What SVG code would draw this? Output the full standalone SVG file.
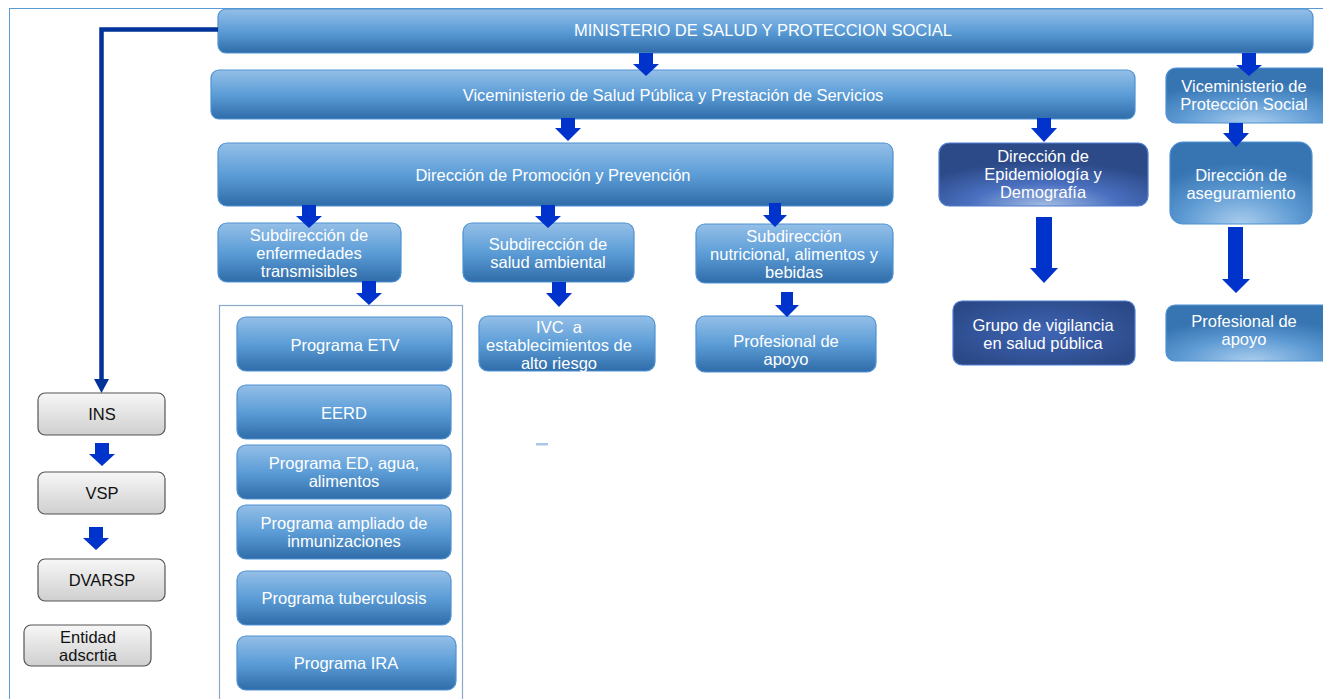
<svg xmlns="http://www.w3.org/2000/svg" width="1323" height="699" viewBox="0 0 1323 699">
<defs>
<linearGradient id="gBlue" x1="0" y1="0" x2="0" y2="1">
<stop offset="0" stop-color="#94BFE7"/>
<stop offset="0.5" stop-color="#5C9DD7"/>
<stop offset="1" stop-color="#2F6CA9"/>
</linearGradient>
<radialGradient id="gLight" cx="0.5" cy="1" r="0.75">
<stop offset="0" stop-color="#A9CDEE"/>
<stop offset="0.55" stop-color="#5D9AD3"/>
<stop offset="1" stop-color="#3674B2"/>
</radialGradient>
<radialGradient id="gDark" cx="0.5" cy="1" r="0.7">
<stop offset="0" stop-color="#A3BCE4"/>
<stop offset="0.5" stop-color="#4A70C0"/>
<stop offset="1" stop-color="#2C4A88"/>
</radialGradient>
<radialGradient id="gDark2" cx="0.5" cy="0.5" r="0.6">
<stop offset="0" stop-color="#3F65B5"/>
<stop offset="1" stop-color="#2B4987"/>
</radialGradient>
<linearGradient id="gGrey" x1="0" y1="0" x2="0" y2="1">
<stop offset="0" stop-color="#F7F7F7"/>
<stop offset="1" stop-color="#CFCFCF"/>
</linearGradient>
</defs>
<style>
.b{fill:url(#gBlue);stroke:#4F92D3;stroke-width:1.2}
.l{fill:url(#gLight);stroke:#4F92D3;stroke-width:1.2}
.d{fill:url(#gDark);stroke:#4F7FCF;stroke-width:1.2}
.d2{fill:url(#gDark2);stroke:#4F7FCF;stroke-width:1.2}
.g{fill:url(#gGrey);stroke:#555;stroke-width:1.2}
text{font-family:"Liberation Sans",Arial,sans-serif;font-size:16.5px;text-anchor:middle;dominant-baseline:central}
.w{fill:#FFFFFF}
.k{fill:#111}
.ar{fill:#0033CC}
</style>
<rect x="9.5" y="8.5" width="1330" height="700" fill="#FFFFFF" stroke="#5B9BD5" stroke-width="1"/>
<rect x="219.5" y="305.5" width="243" height="400" fill="none" stroke="#8EA9C8" stroke-width="1.2"/>
<rect x="536" y="443" width="12" height="2.5" fill="#A8C8E8"/>

<g id="ministerio"><rect class="b" x="218" y="9" width="1095" height="44" rx="8"/><text class="w" x="763" y="30">MINISTERIO DE SALUD Y PROTECCION SOCIAL</text></g>
<g id="vice-salud"><rect class="b" x="211" y="70" width="924" height="49" rx="8"/><text class="w" x="673" y="95">Viceministerio de Salud Pública y Prestación de Servicios</text></g>
<g id="vice-proteccion"><rect class="l" x="1166" y="68" width="170" height="55" rx="10"/><text class="w" x="1244" y="86">Viceministerio de</text><text class="w" x="1244" y="104">Protección Social</text></g>
<g id="dir-promocion"><rect class="b" x="218" y="143" width="675" height="63" rx="9"/><text class="w" x="553" y="175">Dirección de Promoción y Prevención</text></g>
<g id="dir-epidemiologia"><rect class="d" x="939" y="143" width="209" height="63" rx="10"/><text class="w" x="1043" y="156">Dirección de</text><text class="w" x="1043" y="174">Epidemiología y</text><text class="w" x="1043" y="192">Demografía</text></g>
<g id="dir-aseguramiento"><rect class="l" x="1170" y="142" width="142" height="82" rx="13"/><text class="w" x="1241" y="175">Dirección de</text><text class="w" x="1241" y="193">aseguramiento</text></g>
<g id="sub-enfermedades"><rect class="b" x="218" y="223" width="183" height="59" rx="9"/><text class="w" x="309" y="235">Subdirección de</text><text class="w" x="309" y="253">enfermedades</text><text class="w" x="309" y="271">transmisibles</text></g>
<g id="sub-ambiental"><rect class="b" x="463" y="223" width="171" height="59" rx="9"/><text class="w" x="548" y="244">Subdirección de</text><text class="w" x="548" y="262">salud ambiental</text></g>
<g id="sub-nutricional"><rect class="b" x="696" y="224" width="197" height="59" rx="9"/><text class="w" x="794" y="236">Subdirección</text><text class="w" x="794" y="254">nutricional, alimentos y</text><text class="w" x="794" y="272">bebidas</text></g>
<g id="ivc"><rect class="b" x="479" y="316" width="176" height="55" rx="9"/><text class="w" x="559" y="327" xml:space="preserve">IVC  a</text><text class="w" x="559" y="345">establecimientos de</text><text class="w" x="559" y="363">alto riesgo</text></g>
<g id="profesional-nutri"><rect class="b" x="696" y="316" width="180" height="56" rx="9"/><text class="w" x="786" y="341">Profesional de</text><text class="w" x="786" y="359">apoyo</text></g>
<g id="grupo-vigilancia"><rect class="d2" x="953" y="301" width="182" height="64" rx="9"/><text class="w" x="1043" y="325">Grupo de vigilancia</text><text class="w" x="1043" y="343">en salud pública</text></g>
<g id="profesional-aseg"><rect class="l" x="1166" y="305" width="170" height="56" rx="9"/><text class="w" x="1244" y="321">Profesional de</text><text class="w" x="1244" y="339">apoyo</text></g>

<g id="prog-etv"><rect class="b" x="237" y="317" width="215" height="54" rx="9"/><text class="w" x="345" y="345">Programa ETV</text></g>
<g id="prog-eerd"><rect class="b" x="237" y="385" width="214" height="54" rx="9"/><text class="w" x="344" y="413">EERD</text></g>
<g id="prog-ed"><rect class="b" x="237" y="445" width="214" height="54" rx="9"/><text class="w" x="344" y="463">Programa ED, agua,</text><text class="w" x="344" y="481">alimentos</text></g>
<g id="prog-pai"><rect class="b" x="237" y="505" width="214" height="54" rx="9"/><text class="w" x="344" y="523">Programa ampliado de</text><text class="w" x="344" y="541">inmunizaciones</text></g>
<g id="prog-tb"><rect class="b" x="237" y="571" width="214" height="54" rx="9"/><text class="w" x="344" y="598">Programa tuberculosis</text></g>
<g id="prog-ira"><rect class="b" x="237" y="636" width="219" height="54" rx="9"/><text class="w" x="346" y="663">Programa IRA</text></g>

<g id="ins"><rect class="g" x="38" y="393" width="127" height="42" rx="7"/><text class="k" x="102" y="414">INS</text></g>
<g id="vsp"><rect class="g" x="38" y="472" width="127" height="42" rx="7"/><text class="k" x="102" y="493">VSP</text></g>
<g id="dvarsp"><rect class="g" x="38" y="559" width="127" height="42" rx="7"/><text class="k" x="102" y="580">DVARSP</text></g>
<g id="entidad"><rect class="g" x="24" y="625" width="127" height="41" rx="7"/><text class="k" x="88" y="637">Entidad</text><text class="k" x="88" y="655">adscrtia</text></g>

<g id="connectors">
<polyline points="218,29.5 101.5,29.5 101.5,381" fill="none" stroke="#003399" stroke-width="4.5"/>
<polygon points="94,379 109,379 101.5,393" fill="#003399"/>
<polygon class="ar" points="639,53 653,53 653,64 659,64 646,76 633,64 639,64"/>
<polygon class="ar" points="1242,53 1256,53 1256,65 1262,65 1249,76 1236,65 1242,65"/>
<polygon class="ar" points="561,118 575,118 575,128 581,128 568,141 555,128 561,128"/>
<polygon class="ar" points="1037,118 1051,118 1051,128 1057,128 1044,142 1031,128 1037,128"/>
<polygon class="ar" points="1229,123 1243,123 1243,133 1249,133 1236,147 1223,133 1229,133"/>
<polygon class="ar" points="302,205 316,205 316,216 322,216 309,228 296,216 302,216"/>
<polygon class="ar" points="541,205 555,205 555,216 561,216 548,228 535,216 541,216"/>
<polygon class="ar" points="769,203 781,203 781,215 787,215 775,227 763,215 769,215"/>
<polygon class="ar" points="362,281 376,281 376,293 382,293 369,305 356,293 362,293"/>
<polygon class="ar" points="552,282 566,282 566,293 572,293 559,307 546,293 552,293"/>
<polygon class="ar" points="781,292 793,292 793,305 799,305 787,317 775,305 781,305"/>
<polygon class="ar" points="1036,217 1052,217 1052,268 1058,268 1044,283 1030,268 1036,268"/>
<polygon class="ar" points="1228,227 1243,227 1243,279 1250,279 1236,293 1222,279 1228,279"/>
<polygon class="ar" points="95,443 109,443 109,454 115,454 102,466 89,454 95,454"/>
<polygon class="ar" points="89,527 103,527 103,538 109,538 96,550 83,538 89,538"/>
</g>
</svg>
